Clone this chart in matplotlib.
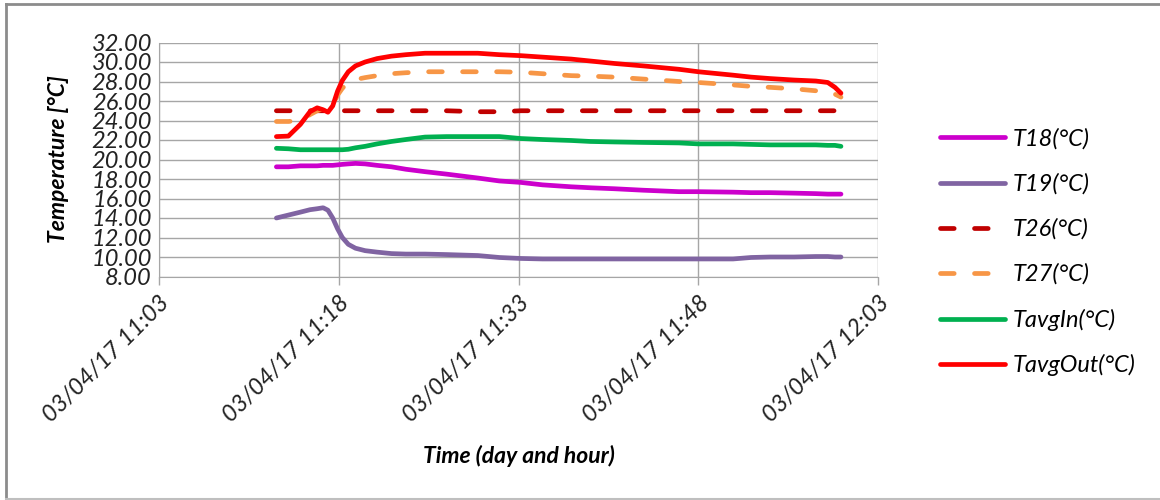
import pandas as pd
import numpy as np
import matplotlib
matplotlib.use("Agg")
import matplotlib.pyplot as plt
import matplotlib.dates as mdates
from matplotlib.lines import Line2D

plt.rcParams['font.family'] = ['Lato', 'DejaVu Sans']

# minutes after 03/04/17 11:03
minutes = [9.8, 10.8, 11.8, 12.6, 13.2, 13.7, 14.1, 14.5, 14.9, 15.3, 15.8, 16.4,
           17.2, 18.2, 19.4, 20.6, 22.2, 24.0, 26.6, 28.4, 30.2, 32.0, 34.4, 36.0,
           38.0, 40.4, 43.4, 45.0, 47.9, 49.4, 51.0, 53.0, 54.8, 55.8, 56.4, 56.9]

t18 = [19.25, 19.25, 19.35, 19.35, 19.35, 19.4, 19.4, 19.4, 19.45, 19.5, 19.55, 19.6,
       19.55, 19.4, 19.25, 19.0, 18.75, 18.5, 18.1, 17.8, 17.65, 17.4, 17.2, 17.1,
       17.0, 16.85, 16.7, 16.7, 16.65, 16.6, 16.6, 16.55, 16.5, 16.45, 16.45, 16.45]
t19 = [14.0, 14.3, 14.6, 14.85, 14.95, 15.05, 14.8, 14.0, 12.9, 12.0, 11.3, 10.9,
       10.65, 10.5, 10.35, 10.3, 10.3, 10.25, 10.15, 9.95, 9.85, 9.8, 9.8, 9.8,
       9.8, 9.8, 9.8, 9.8, 9.8, 9.95, 10.0, 10.0, 10.05, 10.05, 10.0, 10.0]
t26 = [25.0, 25.0, 25.0, 25.0, 25.0, 25.0, 25.0, 25.0, 25.0, 25.0, 25.0, 25.0,
       25.0, 25.0, 25.0, 25.0, 25.0, 25.0, 24.9, 24.9, 25.0, 25.0, 25.0, 25.0,
       25.0, 25.0, 25.0, 25.0, 25.0, 25.0, 25.0, 25.0, 25.0, 25.0, 25.0, 25.0]
t27 = [23.9, 23.9, 24.0, 24.6, 25.0, 25.2, 25.2, 25.5, 26.6, 27.3, 27.9, 28.2,
       28.4, 28.6, 28.8, 28.9, 29.0, 29.0, 29.0, 29.0, 28.95, 28.8, 28.6, 28.55,
       28.45, 28.25, 28.0, 27.9, 27.65, 27.5, 27.4, 27.25, 27.05, 26.95, 26.7, 26.4]
tavg_in = [21.15, 21.1, 21.0, 21.0, 21.0, 21.0, 21.0, 21.0, 21.0, 21.0, 21.05, 21.2,
           21.35, 21.6, 21.85, 22.05, 22.3, 22.35, 22.35, 22.35, 22.15, 22.05, 21.95, 21.85,
           21.8, 21.75, 21.7, 21.6, 21.6, 21.55, 21.5, 21.5, 21.5, 21.45, 21.45, 21.35]
tavg_out = [22.35, 22.4, 23.6, 24.9, 25.3, 25.1, 24.85, 25.5, 27.0, 28.1, 29.0, 29.6,
            30.0, 30.35, 30.6, 30.75, 30.9, 30.9, 30.9, 30.75, 30.65, 30.5, 30.3, 30.1,
            29.85, 29.6, 29.25, 29.0, 28.65, 28.45, 28.3, 28.15, 28.05, 27.9, 27.4, 26.8]

labels = ["T18(°C)", "T19(°C)", "T26(°C)", "T27(°C)", "TavgIn(°C)", "TavgOut(°C)"]
colors = ["#CC00CC", "#8064A2", "#C00000", "#F79646", "#00B050", "#FF0000"]
dashed = [False, False, True, True, False, False]

base = pd.Timestamp("2017-04-03 11:03")
times = base + pd.to_timedelta(minutes, unit="m")

fig = plt.figure(figsize=(11.6, 5), dpi=100)
ax = fig.add_axes([0.137, 0.447, 0.620, 0.468])

handles = []
for vals, lab, col, d in zip([t18, t19, t26, t27, tavg_in, tavg_out], labels, colors, dashed):
    if d:
        ln, = ax.plot(times, vals, color=col, lw=3.4, label=lab, dashes=(2.9, 4.3),
                      dash_capstyle='round', solid_capstyle='round')
    else:
        ln, = ax.plot(times, vals, color=col, lw=3.4, label=lab, solid_capstyle='round')
    handles.append(ln)

ax.set_xlim(base, base + pd.Timedelta(minutes=60))
ax.set_ylim(8, 32)
ax.set_yticks(np.arange(8, 33, 2))
ax.yaxis.set_major_formatter(matplotlib.ticker.FormatStrFormatter('%.2f'))
ax.set_xticks([base + pd.Timedelta(minutes=m) for m in range(0, 61, 15)])
ax.xaxis.set_major_formatter(mdates.DateFormatter('%d/%m/%y %H:%M'))

ax.grid(True, color='#A6A6A6', lw=1)
ax.set_axisbelow(True)
for s in ['top', 'right']:
    ax.spines[s].set_visible(False)
for s in ['left', 'bottom']:
    ax.spines[s].set_color('#A6A6A6')
ax.tick_params(axis='y', length=0, pad=5, labelsize=17, colors='#222222')
ax.tick_params(axis='x', length=6, width=1, color='#A6A6A6', pad=5,
               labelsize=17, labelcolor='#222222')
for lbl in ax.get_yticklabels():
    lbl.set_fontstyle('italic')
for lbl in ax.get_xticklabels():
    lbl.set_fontstyle('italic')
    lbl.set_rotation(45)
    lbl.set_ha('right')
    lbl.set_rotation_mode('anchor')

ax.set_ylabel("Temperature [°C]", fontsize=16.5, fontweight='bold', fontstyle='italic', labelpad=16)
ax.set_xlabel("Time (day and hour)", fontsize=16.5, fontweight='bold', fontstyle='italic')
ax.xaxis.set_label_coords(0.5, -0.72)

leg = fig.legend(handles=handles, loc='upper left', bbox_to_anchor=(0.792, 0.786),
                 frameon=False, handlelength=2.75, labelspacing=1.0, handletextpad=0.35,
                 prop={'size': 17, 'style': 'italic'})

# outer chart border
fig.add_artist(Line2D([0.005, 1.0], [0.992, 0.992], color='#8C8C8C', lw=2, transform=fig.transFigure))
fig.add_artist(Line2D([0.0055, 0.0055], [0.0, 0.992], color='#8C8C8C', lw=2, transform=fig.transFigure))
fig.add_artist(Line2D([0.005, 1.0], [0.003, 0.003], color='#BFBFBF', lw=1.5, transform=fig.transFigure))

fig.savefig("out.png", dpi=100)
